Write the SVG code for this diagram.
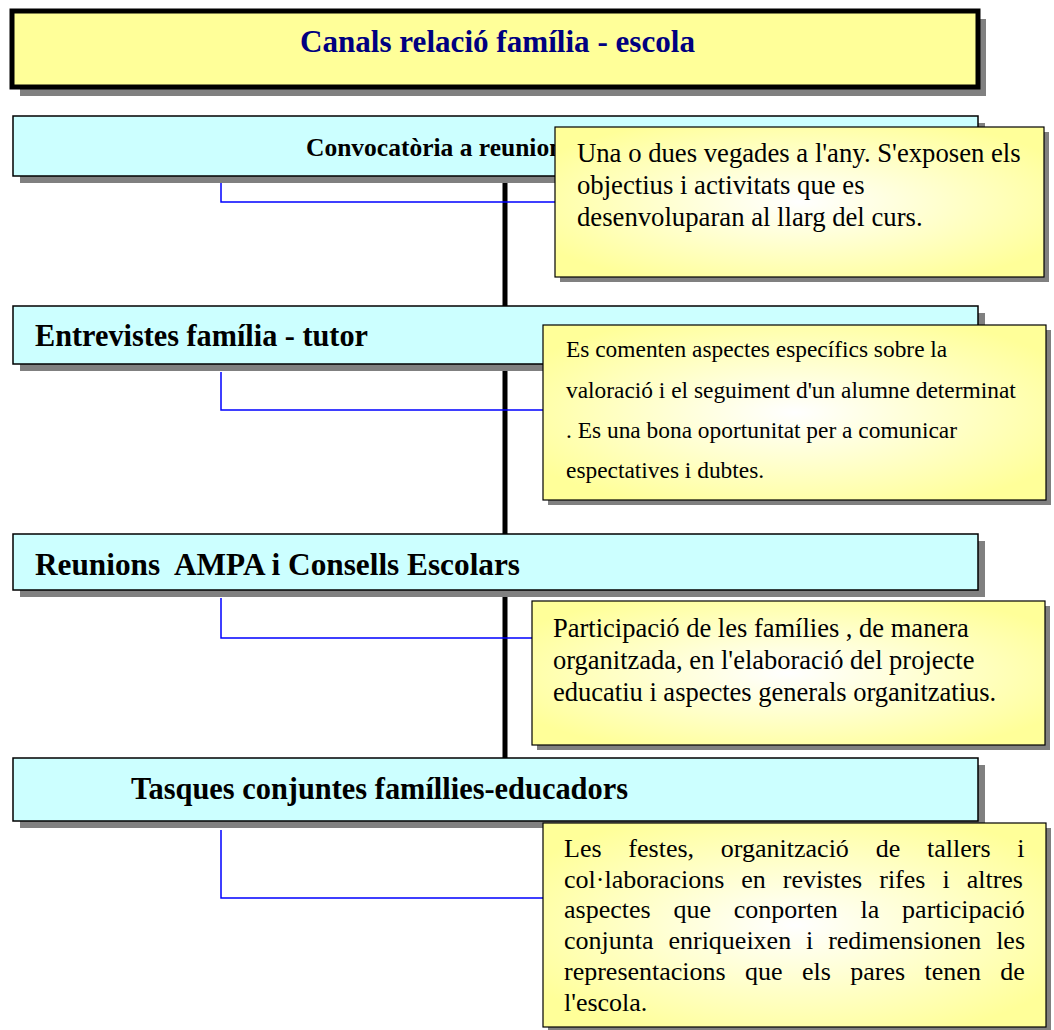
<svg xmlns="http://www.w3.org/2000/svg" width="1054" height="1030" viewBox="0 0 1054 1030">
<style>
.shadow{fill:#808080}
.box{fill:#ccffff;stroke:#000;stroke-width:1.5}
.note{fill:url(#ng);stroke:#000;stroke-width:1.2}
.hd{font-family:"Liberation Serif","Times New Roman",serif;font-weight:bold;fill:#000}
.nt{font-family:"Liberation Serif","Times New Roman",serif;fill:#000}
.blue{stroke:#0000ff;stroke-width:1.5;fill:none}
</style>
<defs>
<radialGradient id="ng" cx="50%" cy="50%" r="60%">
<stop offset="0" stop-color="#ffffff"/>
<stop offset="1" stop-color="#ffff99"/>
</radialGradient>
</defs>
<rect width="1054" height="1030" fill="#fff"/>
<g id="connectors">
<line x1="505" y1="176" x2="505" y2="760" stroke="#000" stroke-width="5"/>
<polyline class="blue" points="221,183 221,202 556,202"/>
<polyline class="blue" points="221,372 221,410 545,410"/>
<polyline class="blue" points="221,598 221,638 533,638"/>
<polyline class="blue" points="221,830 221,898 545,898"/>
</g>
<g id="title">
<rect class="shadow" x="20" y="19" width="966" height="77"/>
<rect x="12" y="11" width="966" height="76" fill="#ffff99" stroke="#000" stroke-width="5"/>
<text x="300" y="52" textLength="395" lengthAdjust="spacingAndGlyphs" font-family="Liberation Serif, Times New Roman, serif" font-weight="bold" font-size="31" fill="#000080">Canals relació família - escola</text>
</g>
<g id="box1">
<rect class="shadow" x="20" y="123" width="965" height="60"/>
<rect class="box" x="13" y="116" width="965" height="60"/>
<text class="hd" x="306" y="156" font-size="25.5">Convocatòria a reunions</text>
</g>
<g id="box2">
<rect class="shadow" x="20" y="313" width="965" height="58"/>
<rect class="box" x="13" y="306" width="965" height="58"/>
<text class="hd" x="35" y="346" font-size="30.5" textLength="333" lengthAdjust="spacingAndGlyphs">Entrevistes família - tutor</text>
</g>
<g id="box3">
<rect class="shadow" x="20" y="541" width="965" height="56"/>
<rect class="box" x="13" y="534" width="965" height="56"/>
<text class="hd" x="35" y="575" font-size="30.5" xml:space="preserve" textLength="485" lengthAdjust="spacingAndGlyphs">Reunions  AMPA i Consells Escolars</text>
</g>
<g id="box4">
<rect class="shadow" x="20" y="765" width="965" height="63"/>
<rect class="box" x="13" y="758" width="965" height="63"/>
<text class="hd" x="131" y="799" font-size="30.5" textLength="497" lengthAdjust="spacingAndGlyphs">Tasques conjuntes famíllies-educadors</text>
</g>
<g id="note1">
<rect class="shadow" x="560" y="132" width="489" height="150"/>
<rect class="note" x="555" y="127" width="489" height="150"/>
<text class="nt" font-size="26.7"><tspan x="577" y="162">Una o dues vegades a l'any. S'exposen els</tspan><tspan x="577" y="194">objectius i activitats que es</tspan><tspan x="577" y="226">desenvoluparan al llarg del curs.</tspan></text>
</g>
<g id="note2">
<rect class="shadow" x="548" y="330" width="503" height="175"/>
<rect class="note" x="543" y="325" width="503" height="175"/>
<text class="nt" font-size="23.4"><tspan x="566" y="357">Es comenten aspectes específics sobre la</tspan><tspan x="566" y="398">valoració i el seguiment d'un alumne determinat</tspan><tspan x="566" y="438">. Es una bona oportunitat per a comunicar</tspan><tspan x="566" y="478">espectatives i dubtes.</tspan></text>
</g>
<g id="note3">
<rect class="shadow" x="537" y="606" width="513" height="144"/>
<rect class="note" x="532" y="601" width="513" height="144"/>
<text class="nt" font-size="26.5"><tspan x="553" y="637">Participació de les famílies , de manera</tspan><tspan x="553" y="669">organitzada, en l'elaboració del projecte</tspan><tspan x="553" y="701">educatiu i aspectes generals organitzatius.</tspan></text>
</g>
<g id="note4">
<rect class="shadow" x="548" y="828" width="503" height="202"/>
<rect class="note" x="543" y="823" width="503" height="204"/>
<text class="nt" font-size="26" x="564" y="857" word-spacing="20.3">Les festes, organització de tallers i</text>
<text class="nt" font-size="26" x="564" y="888" word-spacing="10.5">col·laboracions en revistes rifes i altres</text>
<text class="nt" font-size="26" x="564" y="918" word-spacing="16.3">aspectes que conporten la participació</text>
<text class="nt" font-size="26" x="564" y="949" word-spacing="8.4">conjunta enriqueixen i redimensionen les</text>
<text class="nt" font-size="26" x="564" y="980" word-spacing="12.9">representacions que els pares tenen de</text>
<text class="nt" font-size="26" x="564" y="1011">l'escola.</text>
</g>
</svg>
